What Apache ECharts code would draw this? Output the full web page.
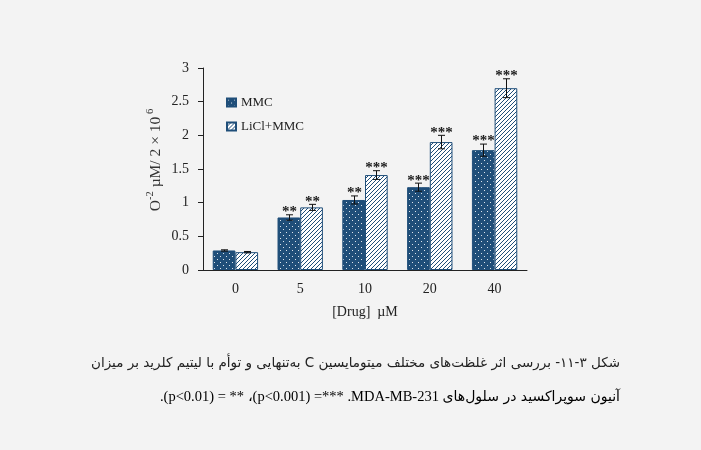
<!DOCTYPE html>
<html>
<head>
<meta charset="utf-8">
<script src="https://cdn.jsdelivr.net/npm/echarts@6/dist/echarts.min.js"></script>
<style>
html,body{margin:0;padding:0;background:#f3f3f3;}
#chart{width:701px;height:450px;}
</style>
</head>
<body>
<div id="chart"></div>
<script>
// ---- data ----
var categories = ['0', '5', '10', '20', '40'];
var seriesNames = ['MMC', 'LiCl+MMC'];
var mmcValues = [0.29, 0.78, 1.04, 1.23, 1.78];
var liclValues = [0.265, 0.93, 1.41, 1.90, 2.70];
var mmcErrors = [0.01, 0.04, 0.06, 0.06, 0.09];
var liclErrors = [0.01, 0.045, 0.065, 0.10, 0.14];
var mmcSignif = ['', '**', '**', '***', '***'];
var liclSignif = ['', '**', '***', '***', '***'];
var yTicks = { min: 0, max: 3, interval: 0.5 };
var xAxisTitle = '[Drug]  µM';
var captionLine1 = 'شکل ۳-۱۱- بررسی اثر غلظت‌های مختلف میتومایسین C به‌تنهایی و توأم با لیتیم کلرید بر میزان';
var captionLine2Latin = '.(p<0.01) = ** ،(p<0.001) =*** .MDA-MB-231 ';
var captionLine2Persian = 'آنیون سوپراکسید در سلول‌های';

// ---- styles ----
var NAVY = '#1f4e79';
var SERIF = '"Liberation Serif", "Times New Roman", serif';

function dotPattern() {
  var c = document.createElement('canvas');
  c.width = 6; c.height = 6;
  var g = c.getContext('2d');
  g.fillStyle = NAVY; g.fillRect(0, 0, 6, 6);
  g.fillStyle = 'rgba(255,255,255,0.85)';
  g.fillRect(1, 1, 1, 1);
  g.fillRect(4, 4, 1, 1);
  return c;
}
function hatchPattern() {
  var c = document.createElement('canvas');
  c.width = 4; c.height = 4;
  var g = c.getContext('2d');
  g.fillStyle = '#ffffff'; g.fillRect(0, 0, 4, 4);
  g.strokeStyle = NAVY; g.lineWidth = 1;
  g.beginPath();
  g.moveTo(-1, 5); g.lineTo(5, -1);
  g.moveTo(-1, 1); g.lineTo(1, -1);
  g.moveTo(3, 5); g.lineTo(5, 3);
  g.stroke();
  return c;
}
var BAR_FRAC = 0.35;

function errorData(vals, errs) {
  return vals.map(function (v, i) { return [i, v, errs[i]]; });
}

function makeErrorRenderer(side, sigArr) {
  return function (params, api) {
    var idx = api.value(0);
    var val = api.value(1);
    var err = api.value(2);
    var sig = sigArr[params.dataIndex];
    var band = api.size([1, 0])[0];
    var off = side * band * BAR_FRAC / 2;
    var top = api.coord([idx, val + err]);
    var bot = api.coord([idx, val - err]);
    var x = Math.round(top[0] + off) + 0.5;
    var cap = 3.5;
    var children = [
      { type: 'line', shape: { x1: x, y1: top[1], x2: x, y2: bot[1] }, style: { stroke: '#111', lineWidth: 1 } },
      { type: 'line', shape: { x1: x - cap, y1: top[1], x2: x + cap, y2: top[1] }, style: { stroke: '#111', lineWidth: 1 } },
      { type: 'line', shape: { x1: x - cap, y1: bot[1], x2: x + cap, y2: bot[1] }, style: { stroke: '#111', lineWidth: 1 } }
    ];
    if (sig) {
      children.push({
        type: 'text',
        style: {
          text: sig, x: x, y: top[1] + 5,
          align: 'center', verticalAlign: 'bottom',
          font: 'bold 15px ' + SERIF, fill: '#1a1a1a'
        }
      });
    }
    return { type: 'group', children: children };
  };
}

var chart = echarts.init(document.getElementById('chart'), null, { renderer: 'canvas' });
var option = {
  backgroundColor: '#f3f3f3',
  animation: false,
  textStyle: { fontFamily: SERIF },
  grid: { left: 203, right: 174, top: 68, bottom: 180, containLabel: false },
  legend: {
    data: seriesNames,
    orient: 'vertical',
    left: 221, top: 91,
    itemWidth: 9, itemHeight: 8, itemGap: 11,
    icon: 'rect',
    textStyle: { fontFamily: SERIF, fontSize: 13, color: '#222' }
  },
  xAxis: {
    type: 'category',
    data: categories,
    axisLine: { lineStyle: { color: '#222', width: 1 } },
    axisTick: { show: false },
    axisLabel: { fontFamily: SERIF, fontSize: 14, color: '#222', margin: 12 },
    name: xAxisTitle,
    nameLocation: 'middle',
    nameGap: 35,
    nameTextStyle: { fontFamily: SERIF, fontSize: 14, color: '#222' }
  },
  yAxis: {
    type: 'value',
    min: yTicks.min, max: yTicks.max, interval: yTicks.interval,
    splitLine: { show: false },
    axisLine: { show: true, lineStyle: { color: '#222', width: 1 } },
    axisTick: { show: true, inside: false, length: 5, lineStyle: { color: '#222' } },
    axisLabel: { fontFamily: SERIF, fontSize: 14, color: '#222', margin: 14 },
    name: '{b|O}{s|-2}{b| µM/ 2 × 10}{s| 6}',
    nameLocation: 'middle',
    nameRotate: 90,
    nameGap: 39,
    nameTextStyle: {
      padding: [0, 0, 0, 18],
      rich: {
        b: { fontFamily: SERIF, fontSize: 15.5, color: '#333', lineHeight: 19, verticalAlign: 'bottom' },
        s: { fontFamily: SERIF, fontSize: 10.5, color: '#333', lineHeight: 11, verticalAlign: 'top' }
      }
    }
  },
  series: [
    {
      name: seriesNames[0], type: 'bar', data: mmcValues,
      barWidth: (BAR_FRAC * 100) + '%', barGap: '0%',
      itemStyle: { color: { image: dotPattern(), repeat: 'repeat' }, borderColor: NAVY, borderWidth: 1 }
    },
    {
      name: seriesNames[1], type: 'bar', data: liclValues,
      barWidth: (BAR_FRAC * 100) + '%', barGap: '0%',
      itemStyle: { color: { image: hatchPattern(), repeat: 'repeat' }, borderColor: NAVY, borderWidth: 1 }
    },
    {
      name: 'err-mmc', type: 'custom', coordinateSystem: 'cartesian2d',
      data: errorData(mmcValues, mmcErrors),
      encode: { x: 0, y: 1 }, z: 5, silent: true,
      renderItem: makeErrorRenderer(-1, mmcSignif)
    },
    {
      name: 'err-licl', type: 'custom', coordinateSystem: 'cartesian2d',
      data: errorData(liclValues, liclErrors),
      encode: { x: 0, y: 1 }, z: 5, silent: true,
      renderItem: makeErrorRenderer(1, liclSignif)
    }
  ],
  graphic: [
    {
      type: 'text', right: 81, top: 356,
      style: { text: '\u202B' + captionLine1 + '\u202C', font: '13.5px "DejaVu Sans", sans-serif', fill: '#222', align: 'right' }
    },
    {
      type: 'text', right: 81, top: 390,
      style: {
        text: '{l|' + captionLine2Latin + '}{p|' + captionLine2Persian + '}',
        align: 'right',
        rich: {
          l: { fontFamily: SERIF, fontSize: 14.5, color: '#222', lineHeight: 20 },
          p: { fontFamily: '"DejaVu Sans", sans-serif', fontSize: 14, color: '#222', lineHeight: 20 }
        }
      }
    }
  ]
};
chart.setOption(option);
</script>
</body>
</html>
